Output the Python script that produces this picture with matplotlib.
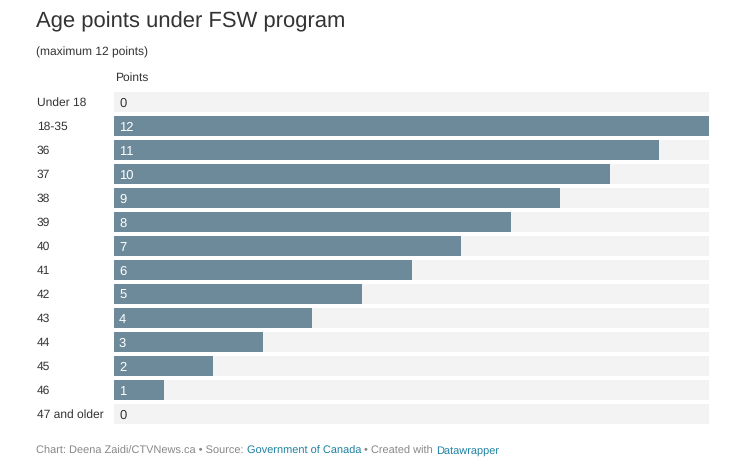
import matplotlib
matplotlib.use("Agg")
import matplotlib.pyplot as plt

categories = ["Under 18", "18-35", "36", "37", "38", "39", "40", "41", "42", "43", "44", "45", "46", "47 and older"]
points = [0, 12, 11, 10, 9, 8, 7, 6, 5, 4, 3, 2, 1, 0]
max_points = 12

plt.rcParams['font.family'] = ['Liberation Sans', 'DejaVu Sans']
plt.rcParams['text.hinting'] = 'no_hinting'
plt.rcParams['text.hinting_factor'] = 1

W, H = 738, 468
fig = plt.figure(figsize=(W/100, H/100), dpi=100)

def fx(px): return px / W
def fy(py): return 1 - py / H

ax = fig.add_axes([fx(114), fy(426), fx(709) - fx(114), fy(90) - fy(426)])
ys = list(range(len(categories)))
ax.barh(ys, [max_points]*len(ys), height=20/24, color="#f3f3f3", left=0)
ax.barh(ys, points, height=20/24, color="#6d8a9b")
ax.set_xlim(0, max_points)
ax.set_ylim(len(categories) - 0.5, -0.5)
ax.axis("off")

for y, c, v in zip(ys, categories, points):
    ax.text(-77/49.6, y + 0.05, c, ha="left", va="center", fontsize=8.8, color="#333333")
    ax.text(5/49.6, y + 0.05, str(v), ha="left", va="center", fontsize=9,
            color="white" if v > 0 else "#333333")

fig.text(fx(36), fy(22), "Age points under FSW program", fontsize=15.8, color="#333333", va="center", ha="left")
fig.text(fx(36), fy(52), "(maximum 12 points)", fontsize=8.5, color="#333333", va="center", ha="left")
fig.text(fx(115), fy(78), "Points", fontsize=8.5, color="#333333", va="center", ha="left")

# footer
renderer = fig.canvas.get_renderer()
fs = 7.8
def width_of(s):
    t = fig.text(0, 0, s, fontsize=fs)
    w = t.get_window_extent(renderer=renderer).width
    t.remove()
    return w

segments = [("Chart: Deena Zaidi/CTVNews.ca \u2022 Source:", "#888888"),
            ("Government of Canada", "#1d81a2"),
            ("\u2022 Created with", "#888888"),
            ("Datawrapper", "#1d81a2")]
x0 = fx(36)
prefix = ""
for i, (seg, col) in enumerate(segments):
    if i > 0:
        prefix += " "
    off = width_of(prefix + "x") - width_of("x") if prefix else 0.0
    fig.text(x0 + off / W, fy(454), seg, fontsize=fs, color=col, va="baseline", ha="left")
    prefix += seg

fig.savefig("out.png", dpi=100, facecolor="white")
